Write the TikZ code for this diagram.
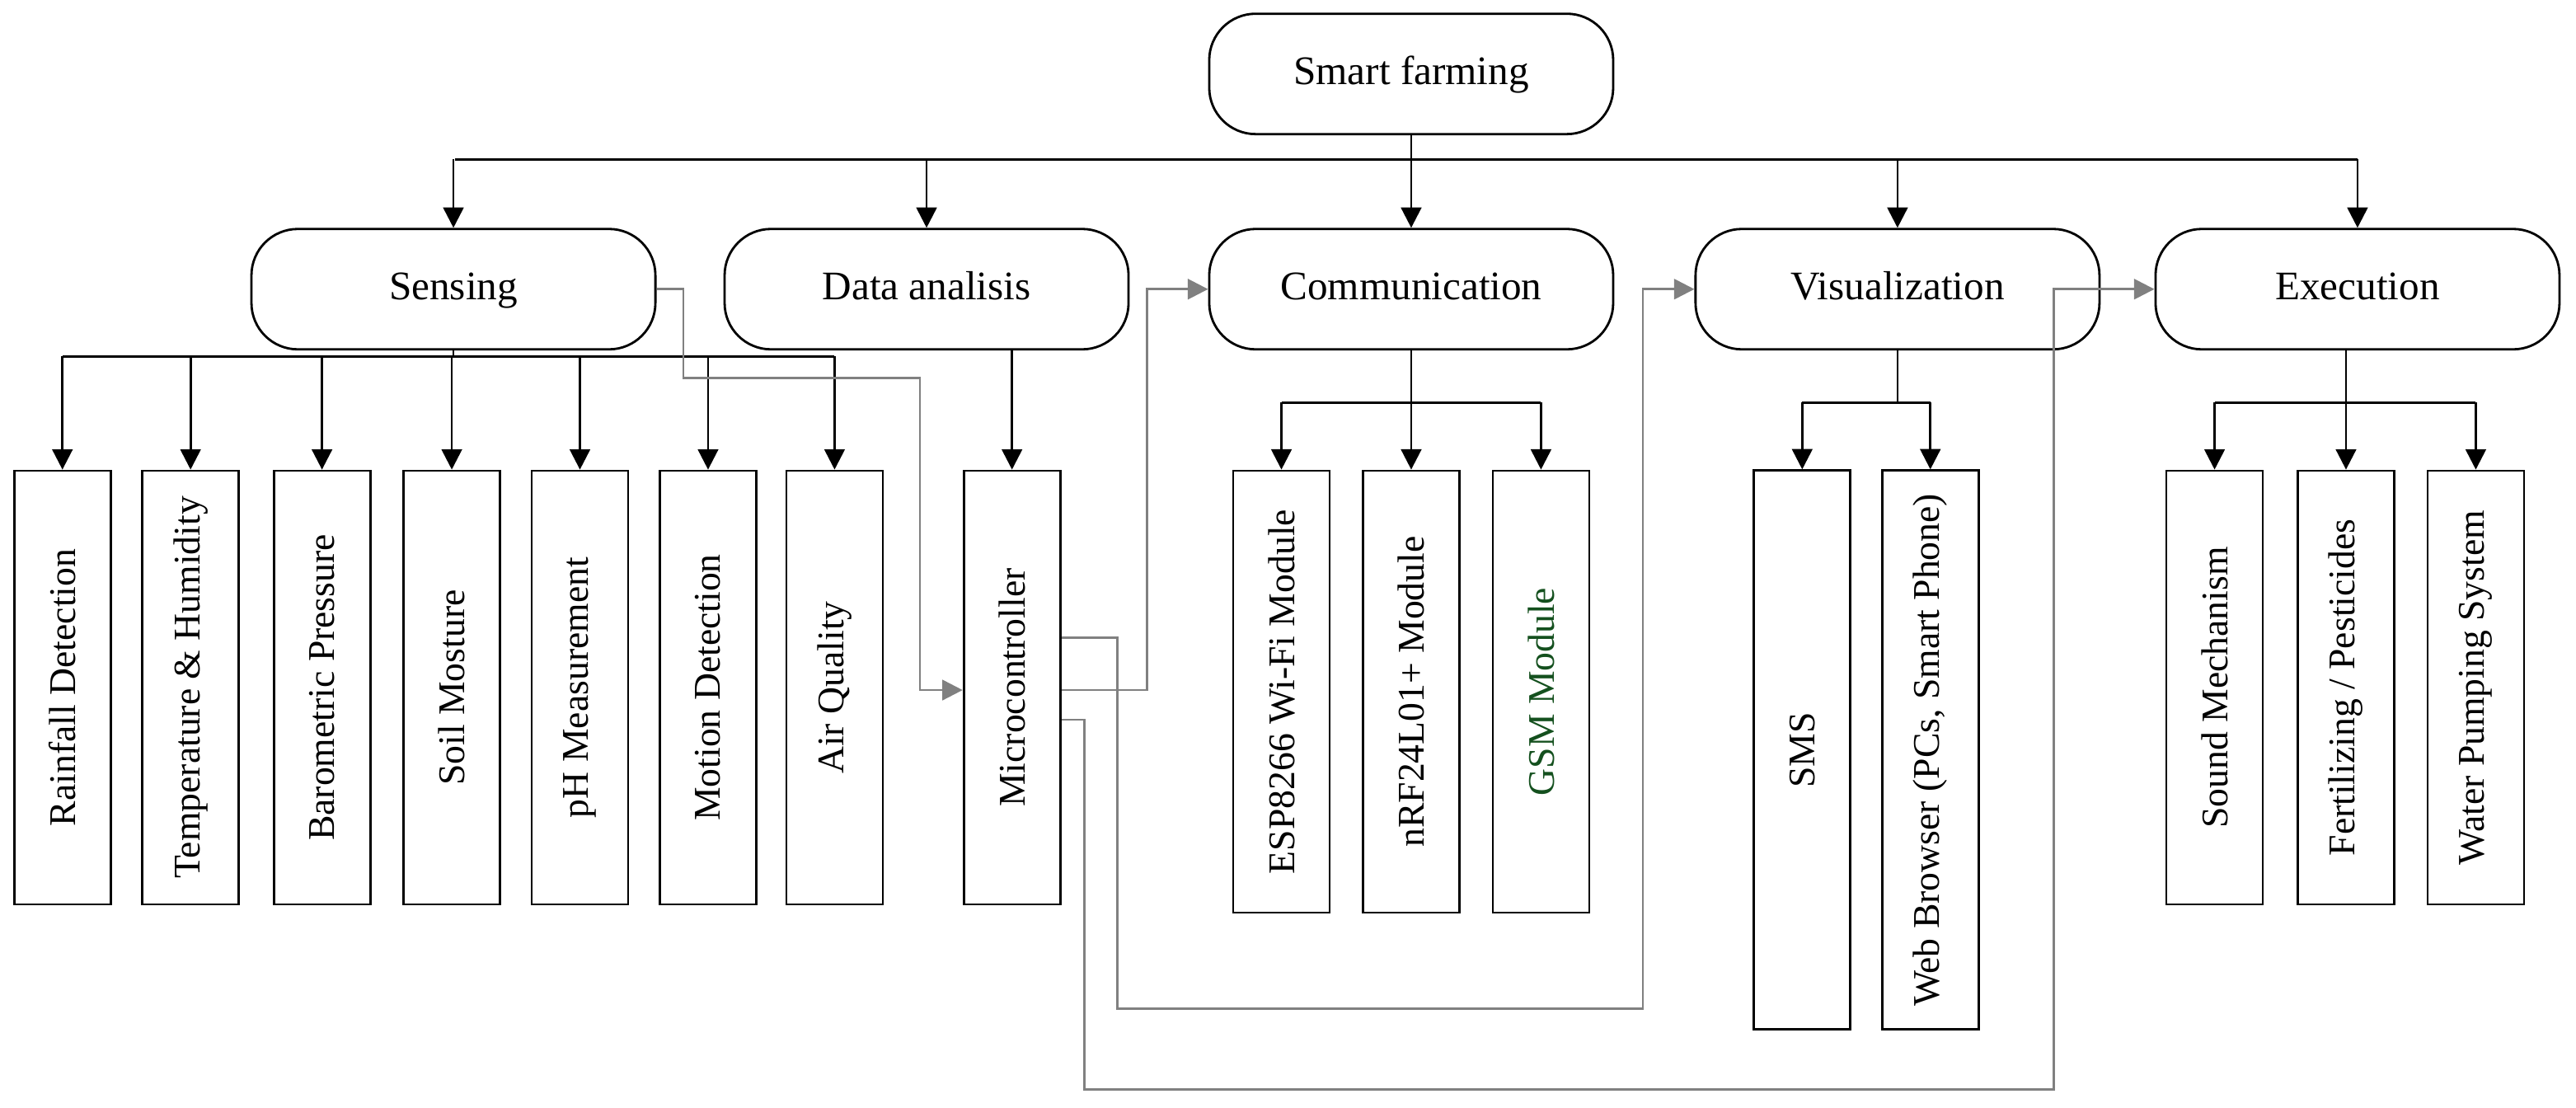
\documentclass[tikz,border=0pt]{standalone}
\usepackage{fontspec}
\setmainfont{Liberation Serif}
\usetikzlibrary{arrows.meta}
\definecolor{gsmgreen}{RGB}{20,80,30}
\tikzset{
  head/.style={draw, thick, rounded corners=16pt, minimum width=4.9cm, minimum height=1.46cm, text height=2.2ex, text depth=0.6ex, font=\fontsize{14}{16}\selectfont},
  leaf/.style={draw, thick, rotate=90, minimum height=1.17cm, font=\fontsize{13}{15}\selectfont},
  link/.style={thick, -{Triangle[length=7pt,width=7pt]}},
  grey/.style={thick, gray, -{Triangle[length=7pt,width=7pt]}}
}
\begin{document}
\begin{tikzpicture}[x=0.01993cm, y=-0.01993cm]
\useasboundingbox (0,0) rectangle (1568,673.9);
% top level
\node[head] (farm) at (859,45) {Smart farming};
\node[head] (sens) at (276,176) {Sensing};
\node[head] (data) at (564,176) {Data analisis};
\node[head] (comm) at (859,176) {Communication};
\node[head] (visu) at (1155,176) {Visualization};
\node[head] (exec) at (1435,176) {Execution};
\draw[thick] (farm.south) -- (859,97) coordinate (bus);
\draw[thick] (277,97) -- (1435,97);
\foreach \n in {sens,data,comm,visu,exec}
  \draw[link] (bus -| \n) -- (\n.north);
% sensing leaves
\foreach \x/\n/\t in {38/rain/Rainfall Detection, 116/temp/Temperature \& Humidity, 196/baro/Barometric Pressure, 275/soil/Soil Mosture, 353/ph/pH Measurement, 431/moti/Motion Detection, 508/air/Air Quality}
  \node[leaf, minimum width=5.26cm] (\n) at (\x,418.5) {\t};
\draw[thick] (sens.south) -- (276,217);
\draw[thick] (38,217) -- (508,217);
\foreach \n in {rain,temp,baro,soil,ph,moti,air}
  \draw[link] (\n.east |- 0,217) -- (\n.east);
% data analisis
\node[leaf, minimum width=5.26cm] (micro) at (616,418.5) {Microcontroller};
\draw[link] (data.south -| micro.east) -- (micro.east);
% communication leaves
\node[leaf, minimum width=5.36cm] (esp) at (780,421) {ESP8266 Wi-Fi Module};
\node[leaf, minimum width=5.36cm] (nrf) at (859,421) {nRF24L01+ Module};
\node[leaf, minimum width=5.36cm, text=gsmgreen] (gsm) at (938,421) {GSM Module};
\draw[thick] (comm.south) -- (859,245);
\draw[thick] (780,245) -- (938,245);
\foreach \n in {esp,nrf,gsm}
  \draw[link] (\n.east |- 0,245) -- (\n.east);
% visualization leaves
\node[leaf, minimum width=6.78cm] (sms) at (1097,456.5) {SMS};
\node[leaf, minimum width=6.78cm] (web) at (1175,456.5) {Web Browser (PCs, Smart Phone)};
\draw[thick] (visu.south) -- (1155,245);
\draw[thick] (1097,245) -- (1175,245);
\foreach \n in {sms,web}
  \draw[link] (\n.east |- 0,245) -- (\n.east);
% execution leaves
\node[leaf, minimum width=5.26cm] (sound) at (1348,418.5) {Sound Mechanism};
\node[leaf, minimum width=5.26cm] (fert) at (1428,418.5) {Fertilizing / Pesticides};
\node[leaf, minimum width=5.26cm] (pump) at (1507,418.5) {Water Pumping System};
\draw[thick] (exec.south -| fert.east) -- (1428,245);
\draw[thick] (1348,245) -- (1507,245);
\foreach \n in {sound,fert,pump}
  \draw[link] (\n.east |- 0,245) -- (\n.east);
% grey flow
\draw[grey] (sens.east) -- (416,176) -- (416,230) -- (560,230) -- (560,420) -- (micro.north |- 0,420);
\draw[grey] (micro.south |- 0,420) -- (698,420) -- (698,176) -- (comm.west);
\draw[grey] (micro.south |- 0,388) -- (680,388) -- (680,614) -- (1000,614) -- (1000,176) -- (visu.west);
\draw[grey] (micro.south |- 0,438) -- (660,438) -- (660,663) -- (1250,663) -- (1250,176) -- (exec.west);
\end{tikzpicture}
\end{document}
